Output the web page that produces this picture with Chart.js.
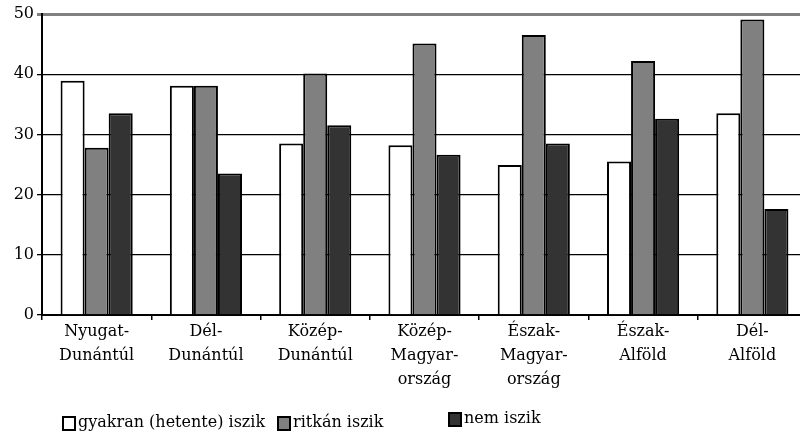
<!DOCTYPE html>
<html>
<head>
<meta charset="utf-8">
<script src="https://cdn.jsdelivr.net/npm/chart.js@4/dist/chart.umd.min.js"></script>
<style>
  html, body { margin: 0; padding: 0; background: #fff; overflow: hidden; }
  #wrap { width: 800px; height: 434px; overflow: hidden; position: relative; }
  canvas { display: block; }
</style>
</head>
<body>
<div id="wrap"><canvas id="c" width="808" height="434"></canvas></div>
<script>
const categories = [
  ["Nyugat-", "Dunántúl"],
  ["Dél-", "Dunántúl"],
  ["Közép-", "Dunántúl"],
  ["Közép-", "Magyar-", "ország"],
  ["Észak-", "Magyar-", "ország"],
  ["Észak-", "Alföld"],
  ["Dél-", "Alföld"]
];
const seriesNames = ["gyakran (hetente) iszik", "ritkán iszik", "nem iszik"];
const gyakran = [38.9, 38.1, 28.5, 28.2, 24.9, 25.5, 33.5];
const ritkan  = [27.8, 38.1, 40.1, 45.1, 46.5, 42.2, 49.1];
const nem     = [33.5, 23.5, 31.5, 26.6, 28.5, 32.6, 17.6];
const yTicks  = [0, 10, 20, 30, 40, 50];

const fills = ["#ffffff", "#808080", "#333333"];
const FONT = "'DejaVu Serif', serif";

const legendPlugin = {
  id: 'customLegend',
  afterDraw(chart) {
    const ctx = chart.ctx;
    const items = [
      { x: 62, y: 416 },
      { x: 277, y: 416 },
      { x: 448, y: 412 }
    ];
    ctx.save();
    ctx.font = "16px " + FONT;
    ctx.textBaseline = "middle";
    chart.data.datasets.forEach((ds, i) => {
      const it = items[i];
      ctx.fillStyle = ds.backgroundColor;
      ctx.fillRect(it.x, it.y, 13, 14);
      ctx.strokeStyle = "#000";
      ctx.lineWidth = 2;
      ctx.strokeRect(it.x + 1, it.y + 1, 12, 13);
      ctx.fillStyle = "#000";
      ctx.fillText(ds.label, it.x + 16, it.y + 7);
    });
    ctx.restore();
  }
};

new Chart(document.getElementById('c'), {
  type: 'bar',
  data: {
    labels: categories,
    datasets: [gyakran, ritkan, nem].map((d, i) => ({
      label: seriesNames[i],
      data: d,
      backgroundColor: fills[i],
      borderColor: "#000",
      borderWidth: 2,
      borderSkipped: 'bottom',
      categoryPercentage: 0.66,
      barPercentage: 1.0
    }))
  },
  options: {
    responsive: false,
    animation: false,
    devicePixelRatio: 1,
    layout: { padding: { top: 14, right: 1, bottom: 0, left: 0 } },
    plugins: { legend: { display: false }, tooltip: { enabled: false } },
    scales: {
      x: {
        offset: true,
        grid: { display: true, drawOnChartArea: false, drawTicks: true, tickLength: 5, color: "#000", lineWidth: 1.5, offset: true },
        border: { display: true, color: "#000", width: 2 },
        ticks: { color: "#000", font: { family: FONT, size: 16, lineHeight: 1.5 }, padding: 0, maxRotation: 0, autoSkip: false },
        afterFit(scale) { scale.height = 119; }
      },
      y: {
        min: 0, max: 50,
        afterBuildTicks(scale) { scale.ticks = yTicks.map(v => ({ value: v })); },
        grid: {
          drawTicks: true, tickLength: 5,
          color: ctx => (ctx.tick && ctx.tick.value === 50) ? "#808080" : "#000",
          lineWidth: ctx => (ctx.tick && ctx.tick.value === 50) ? 3 : 1.3
        },
        border: { display: true, color: "#000", width: 2 },
        ticks: { color: "#000", font: { family: FONT, size: 16 }, padding: 3 },
        afterFit(scale) { scale.width = 42; }
      }
    }
  },
  plugins: [legendPlugin]
});
</script>
</body>
</html>
